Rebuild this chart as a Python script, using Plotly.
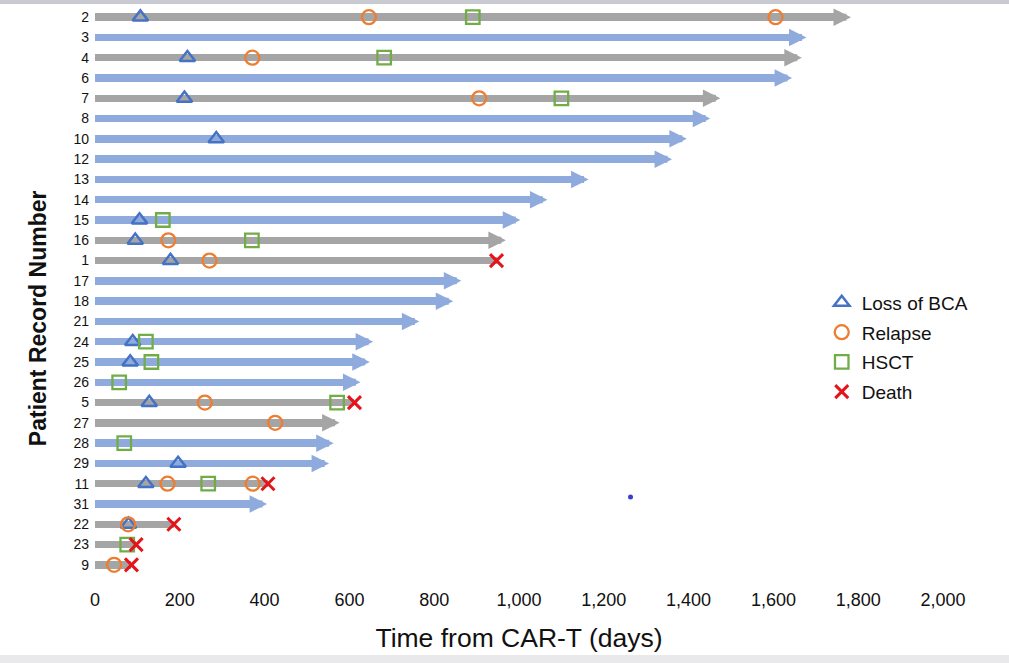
import plotly.graph_objects as go

# rows from top to bottom
patients = ["2", "3", "4", "6", "7", "8", "10", "12", "13", "14", "15", "16", "1", "17",
            "18", "21", "24", "25", "26", "5", "27", "28", "29", "11", "31", "22", "23", "9"]
# last follow-up (days from CAR-T)
follow_up = [1783, 1678, 1667, 1644, 1475, 1451, 1396, 1361, 1164, 1067, 1003, 969, 947, 864,
             845, 765, 656, 648, 626, 612, 577, 563, 552, 408, 406, 186, 97, 86]
# grey = relapse / death course, blue = continuous remission
relapsed = [1, 0, 1, 0, 1, 0, 0, 0, 0, 0, 0, 1, 1, 0,
            0, 0, 0, 0, 0, 1, 1, 0, 0, 1, 0, 1, 1, 1]
# still in follow-up (arrow) vs died
ongoing = [1, 1, 1, 1, 1, 1, 1, 1, 1, 1, 1, 1, 0, 1,
           1, 1, 1, 1, 1, 0, 1, 1, 1, 0, 1, 0, 0, 0]

bca_pt = ["2", "4", "7", "10", "15", "16", "1", "24", "25", "5", "29", "11", "22"]
bca_day = [107, 218, 211, 286, 105, 95, 178, 89, 83, 128, 196, 120, 79]

relapse_pt = ["2", "2", "4", "7", "16", "1", "5", "27", "11", "11", "22", "9"]
relapse_day = [646, 1605, 371, 906, 173, 270, 259, 425, 171, 372, 78, 45]

hsct_pt = ["2", "4", "7", "15", "16", "24", "25", "26", "5", "28", "11", "23"]
hsct_day = [891, 682, 1100, 160, 370, 120, 133, 57, 571, 69, 267, 76]

death_pt = ["1", "5", "11", "22", "23", "9"]
death_day = [947, 612, 408, 186, 97, 86]

# stray dot visible in the original figure
stray_x = [1263]
stray_y = [23.65]

x_ticks = list(range(0, 2001, 200))

BLUE_BAR = "#8FAADC"
GREY_BAR = "#A5A5A5"
FONT = "Liberation Sans"

row = {p: i for i, p in enumerate(patients)}

fig = go.Figure()

# shafts (stop a little short of the arrow tip so the head covers the end)
shaft = [d - 20 if o else d for d, o in zip(follow_up, ongoing)]
fig.add_trace(go.Bar(
    x=shaft, y=list(range(len(patients))), orientation="h", base=0,
    width=0.36,
    marker=dict(color=[GREY_BAR if r else BLUE_BAR for r in relapsed], line=dict(width=0)),
    showlegend=False, hoverinfo="skip",
))

events = [
    ("Loss of BCA", bca_pt, bca_day, "triangle-up-open", "#4472C4", 13.5, 2.5),
    ("Relapse", relapse_pt, relapse_day, "circle-open", "#ED7D31", 14, 2.3),
    ("HSCT", hsct_pt, hsct_day, "square-open", "#70AD47", 13.5, 2.3),
    ("Death", death_pt, death_day, "x-thin-open", "#E5141B", 13, 3),
]
for name, pts, days, sym, col, size, lw in events:
    fig.add_trace(go.Scatter(
        x=days, y=[row[p] for p in pts], mode="markers", name=name,
        legendgroup=name,
        marker=dict(symbol=sym, size=size, color=col, line=dict(color=col, width=lw)),
    ))

fig.add_trace(go.Scatter(
    x=stray_x, y=stray_y, mode="markers", showlegend=False, hoverinfo="skip",
    marker=dict(size=5, color="#3340D0"),
))

# arrow heads for patients still in follow-up
for i, (d, o, r) in enumerate(zip(follow_up, ongoing, relapsed)):
    if not o:
        continue
    fig.add_annotation(
        x=d, y=i, ax=d - 25, ay=i, xref="x", yref="y", axref="x", ayref="y",
        text="", showarrow=True, arrowhead=2, arrowsize=0.5, arrowwidth=7,
        standoff=0, arrowcolor=GREY_BAR if r else BLUE_BAR,
    )

# y title sits a bit below the middle of the plot in the original
fig.add_annotation(
    x=-0.067, y=0.4525, xref="paper", yref="paper", xanchor="center", yanchor="middle",
    text="<b>Patient Record Number</b>", textangle=-90, showarrow=False,
    font=dict(size=23, family=FONT, color="#111111"),
)

# screenshot frame bits
fig.add_shape(type="rect", xref="paper", yref="paper", x0=-0.12, x1=1.09,
              y0=1.0055, y1=1.013, fillcolor="#C9C9D2", line=dict(width=0))
fig.add_shape(type="rect", xref="paper", yref="paper", x0=-0.12, x1=1.09,
              y0=-0.156, y1=-0.141, fillcolor="#E9E9EB", line=dict(width=0))

fig.update_layout(
    width=1009, height=663,
    margin=dict(l=95, r=66, t=7, b=88),
    paper_bgcolor="white", plot_bgcolor="white",
    font=dict(family=FONT, color="#111111"),
    bargap=0,
    showlegend=True,
    legend=dict(
        x=0.857, y=0.513, xanchor="left", yanchor="top",
        font=dict(size=19, family=FONT, color="#111111"),
        itemwidth=30, tracegroupgap=2, bgcolor="rgba(0,0,0,0)",
    ),
    xaxis=dict(
        range=[0, 2000], tickvals=x_ticks, tickformat=",d",
        showgrid=False, zeroline=False, showline=False, ticks="",
        automargin=False, ticklabelstandoff=12,
        tickfont=dict(size=18, family=FONT, color="#111111"),
        title=dict(text="Time from CAR-T (days)", font=dict(size=26.5, family=FONT, color="#111111"),
                   standoff=19),
    ),
    yaxis=dict(
        range=[len(patients) - 0.5, -0.5],
        tickvals=list(range(len(patients))), ticktext=patients,
        showgrid=False, zeroline=False, showline=False, ticks="",
        automargin=False, ticklabelstandoff=5,
        tickfont=dict(size=14, family=FONT, color="#111111"),
    ),
)

# drop the browser's default 8px body margin so the figure sits at the page corner
fig.write_html("out.html", config={"displayModeBar": False},
               post_script="document.body.style.margin='0';")
